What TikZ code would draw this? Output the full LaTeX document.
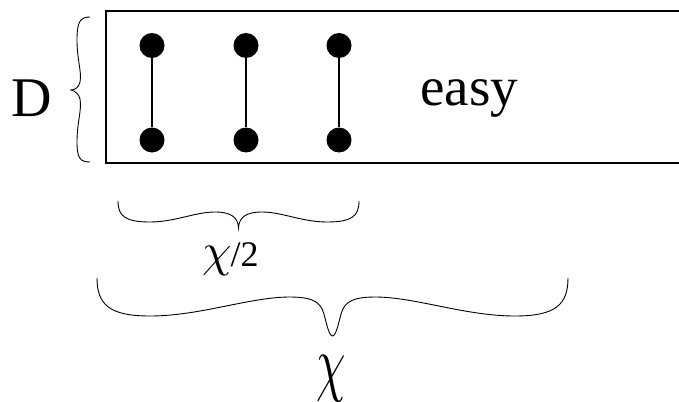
\documentclass[tikz,border=0pt]{standalone}
\usepackage{fontspec}
\setmainfont{Liberation Serif}
\usepackage{graphicx}
\begin{document}
\begin{tikzpicture}[x=1pt,y=-1pt,
  dot/.style={circle,fill=black,inner sep=0pt,minimum size=25pt},
  bar/.style={line width=1.6pt},
  frame/.style={line width=1.4pt},
  brace/.style={line width=0.9pt},
  lbl/.style={inner sep=0pt,anchor=base}]
\useasboundingbox (0,0) rectangle (679,401);
% box (right side runs off the picture)
\draw[frame] (679,11) -- (106,11) -- (106,163) -- (679,163);
% dumbbells
\foreach \i/\x in {1/152,2/246,3/339}{
  \node[dot] (t\i) at (\x,45.5) {};
  \node[dot] (b\i) at (\x,140) {};
  \draw[bar] (t\i) -- (b\i);
}
% texts
\node[lbl,font=\fontsize{56}{56}\selectfont] (D) at (32,117) {D};
\node[lbl,anchor=base west,font=\fontsize{55}{55}\selectfont] (easy) at (420,106) {easy};
\node[lbl,anchor=base west] (half) at (202,266) {\scalebox{4.7}{$\chi$}\kern-1pt{\fontsize{36}{36}\selectfont/2}};
\node[lbl] (chi) at (331,387) {\scalebox{4.7}[7.4]{$\chi$}};
% left brace (D)
\draw[brace] (90,17) .. controls (80,17) and (77,22) .. (77,40)
  .. controls (77,60) and (82,72) .. (80,82)
  .. controls (79,87) and (75,90) .. (71,90)
  .. controls (75,91) and (79,94) .. (80,99)
  .. controls (82,110) and (77,122) .. (77,142)
  .. controls (77,158) and (80,162) .. (90,162);
% brace chi/2
\draw[brace] (118,201) .. controls (118,216) and (125,222) .. (150,222)
  .. controls (175,222) and (195,212) .. (215,212)
  .. controls (232,212) and (238,218) .. (238.5,228)
  .. controls (239,218) and (245,212) .. (262,212)
  .. controls (282,212) and (302,222) .. (327,222)
  .. controls (352,222) and (359,216) .. (359,201);
% brace chi
\draw[brace] (97,278) .. controls (97,305) and (110,316) .. (150,316)
  .. controls (200,316) and (250,297) .. (290,297)
  .. controls (318,297) and (322,305) .. (325,318)
  .. controls (328,330) and (330,336) .. (332.5,336)
  .. controls (335,336) and (337,330) .. (340,318)
  .. controls (343,305) and (347,297) .. (375,297)
  .. controls (415,297) and (465,316) .. (515,316)
  .. controls (555,316) and (568,305) .. (568,278);
\end{tikzpicture}
\end{document}
